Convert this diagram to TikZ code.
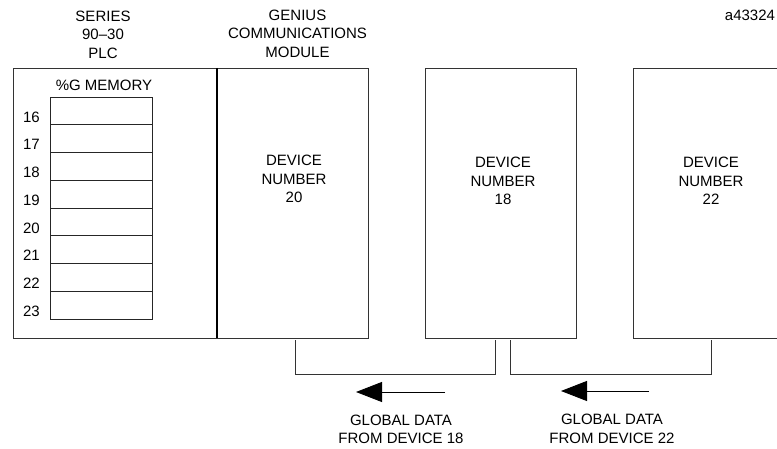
\documentclass[tikz,border=0pt]{standalone}
\usepackage{fontspec}
\setmainfont{Liberation Sans}
\usetikzlibrary{positioning}
\usetikzlibrary{arrows.meta}

\begin{document}
\begin{tikzpicture}[x=1pt,y=-1pt,
                txt/.style={font=\fontsize{15pt}{18.5pt}\selectfont, align=center, inner sep=0pt},
                box/.style={draw=black!80, line width=0.9pt, minimum width=#1, minimum height=270pt, inner sep=0pt, outer sep=0pt, anchor=north west},
                cell/.style={draw=black!85, line width=0.8pt, minimum width=102pt, minimum height=27.75pt, inner sep=0pt, outer sep=0pt, anchor=north west},
                bus/.style={draw=black!80, line width=0.9pt},
                flow/.style={-{Triangle[length=26pt,width=20pt]}, line width=0.9pt}]
                \useasboundingbox (0,0) rectangle (777,449);
                \node[box=204pt] (plc) at (13,68) {};
                \node[box=151pt] (gcm) at (217,68) {};
                \node[box=151pt] (dev18) at (425,68) {};
                \node[box=157pt] (dev22) at (633,68) {};
                \draw[line width=1.4pt] (gcm.north west) -- (gcm.south west);

                \node[txt] (plctitle) at (103,34.5) {SERIES\\90--30\\PLC};
                \node[txt] (gcmtitle) at (297.5,33.5) {GENIUS\\COMMUNICATIONS\\MODULE};
                \node[txt] (figno) at (750,15) {a43324};

                \node[txt] (memtitle) at (104,85) {\%G MEMORY};
                \node[cell] (m16) at (50,97) {};
                \foreach \r [remember=\r as \p (initially 16)] in {17,...,23}
                    \node[cell, below=0pt of m\p] (m\r) {};
                \foreach \r in {16,...,23}
                    \node[txt, left=10pt of m\r.west, yshift=-6pt] (l\r) {\r};

                \node[txt] (t20) at (294,179) {DEVICE\\NUMBER\\20};
                \node[txt] (t18) at (503,181) {DEVICE\\NUMBER\\18};
                \node[txt] (t22) at (711,181) {DEVICE\\NUMBER\\22};

                \draw[bus] ([xshift=2.5pt,yshift=-2pt]gcm.south) -- ++(0,-34pt) -| ([xshift=-5.5pt,yshift=-2pt]dev18.south);
                \draw[bus] ([xshift=9.5pt,yshift=-2pt]dev18.south) -- ++(0,-34pt) -| ([xshift=-0.5pt,yshift=-2pt]dev22.south);

                \coordinate (a18) at (445,392);
                \coordinate (b18) at (356,392);
                \coordinate (a22) at (649,391);
                \coordinate (b22) at (561,391);
                \draw[flow] (a18) -- (b18);
                \draw[flow] (a22) -- (b22);
                \node[txt] (g18) at (401,429.5) {GLOBAL DATA\\FROM DEVICE 18};
                \node[txt] (g22) at (612,429) {GLOBAL DATA\\FROM DEVICE 22};
            \end{tikzpicture}
\end{document}
